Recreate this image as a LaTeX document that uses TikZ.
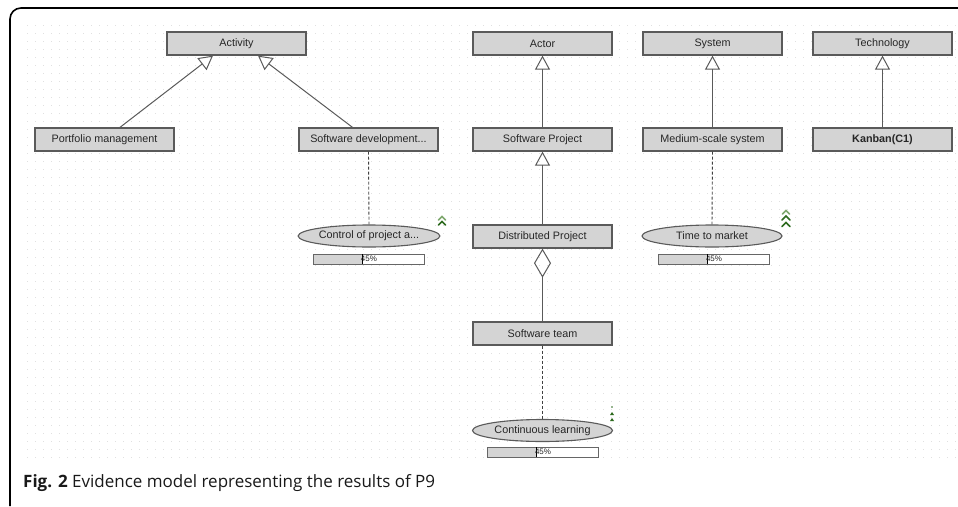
\documentclass[tikz,border=0pt]{standalone}
\usepackage{fontspec}
\setmainfont{Liberation Sans}
\newfontfamily\capfont{Open Sans}
\usetikzlibrary{shapes.geometric,arrows.meta,calc}
\definecolor{boxfill}{HTML}{D4D4D4}
\definecolor{boxline}{HTML}{5A5A5A}
\definecolor{chevdark}{HTML}{2E6B1F}
\definecolor{chevlight}{HTML}{7FA86F}
\tikzset{
  cls/.style={draw=boxline, fill=boxfill, line width=1.3pt, minimum width=139pt, minimum height=23pt, inner sep=0pt, font=\fontsize{10.8}{12}\selectfont, text=black!85},
  ev/.style={ellipse, draw=boxline, fill=boxfill, line width=1.1pt, minimum width=140pt, minimum height=22pt, inner sep=0pt, font=\fontsize{10.8}{12}\selectfont, text=black!85},
  gen/.style={draw=boxline, line width=1pt, -{Triangle[open, length=14pt, width=15pt, line width=1pt]}},
  agg/.style={draw=boxline, line width=1pt, {Diamond[open, length=29pt, width=17pt, line width=1pt]}-},
  dep/.style={draw=black!75, line width=0.9pt, dash pattern=on 3pt off 2pt},
  chev/.style={line width=1.5pt, line cap=round, line join=miter}
}
\newcommand{\pbar}[3]{% x, y (top-left), name
  \fill[white] (#1,#2) rectangle ++(111,10);
  \fill[boxfill] (#1,#2) rectangle ++(49,10);
  \draw[black!60, line width=0.8pt] (#1,#2) rectangle ++(111,10);
  \draw[black, line width=1pt] ($(#1,#2)+(49,0)$) -- ++(0,10);
  \node[font=\fontsize{8}{9}\selectfont, text=black!85, inner sep=0pt] (#3) at ($(#1,#2)+(56,5.2)$) {45\%};
}
\begin{document}
\begin{tikzpicture}[x=1pt, y=-1pt]
\useasboundingbox (0,0) rectangle (958,506);
\fill[white] (0,0) rectangle (958,506);
% dot grid
\foreach \gx in {27,35,...,955} {
  \foreach \gy in {25,33,...,462} {
    \fill[black!12] (\gx,\gy) rectangle ++(1.3,1.3);
  }
}
% frame
\draw[line width=1.6pt, rounded corners=11pt] (10,506) -- (10,8) -- (958,8);

% class nodes
\node[cls] (act) at (236.5,43.5) {Activity};
\node[cls] (actor) at (542.5,43.5) {Actor};
\node[cls] (sys) at (712.5,43.5) {System};
\node[cls] (tech) at (882.5,43.5) {Technology};
\node[cls] (pm) at (104.5,139.5) {Portfolio management};
\node[cls] (sd) at (368.5,139.5) {Software development...};
\node[cls] (sp) at (542.5,139.5) {Software Project};
\node[cls] (ms) at (712.5,139.5) {Medium-scale system};
\node[cls, font=\fontsize{10.8}{12}\selectfont\bfseries] (kb) at (882.5,139.5) {Kanban(C1)};
\node[cls] (dp) at (542.5,236.5) {Distributed Project};
\node[cls] (st) at (542.5,333.5) {Software team};

% evidence ellipses
\node[ev] (cp) at (369,236) {Control of project a...};
\node[ev] (ttm) at (712,236) {Time to market};
\node[ev] (cl) at (542.5,430.5) {Continuous learning};

% connectors
\draw[gen] ([xshift=15.5pt]pm.north) -- ([xshift=-23.5pt]act.south);
\draw[gen] ([xshift=-16pt]sd.north) -- ([xshift=21.5pt]act.south);
\draw[gen] (sp) -- (actor);
\draw[gen] (dp) -- (sp);
\draw[gen] (ms) -- (sys);
\draw[gen] (kb) -- (tech);
\draw[agg] (dp.south) -- (st.north);
\draw[dep] (sd.south) -- (cp.north);
\draw[dep] (ms.south) -- (ttm.north);
\draw[dep] (st.south) -- (cl.north);

% progress bars
\pbar{313}{254}{b1}
\pbar{658}{254}{b2}
\pbar{487}{447}{b3}

% chevrons for Control of project
\draw[chev, chevlight] (438.5,220) -- (442,216.5) -- (445.5,220);
\draw[chev, chevdark] (438.5,225) -- (442,221.5) -- (445.5,225);
% chevrons for Time to market
\draw[chev, chevlight] (782.5,214) -- (786,210.5) -- (789.5,214);
\draw[chev, chevdark] (782,220) -- (786,216) -- (790,220);
\draw[chev, chevdark] (782,226.5) -- (786,222.5) -- (790,226.5);
% small marks for Continuous learning
\fill[chevdark] (612,407) circle (0.8);
\fill[chevdark] (610,415) -- (612,412) -- (614,415) -- cycle;
\fill[chevdark] (610,421) -- (612,418) -- (614,421) -- cycle;

% caption
\node[anchor=base west, inner sep=0pt, font=\capfont\fontsize{17}{20}\selectfont, text=black!90] (cap) at (23,487) {\textbf{Fig. 2} Evidence model representing the results of P9};
\end{tikzpicture}
\end{document}
